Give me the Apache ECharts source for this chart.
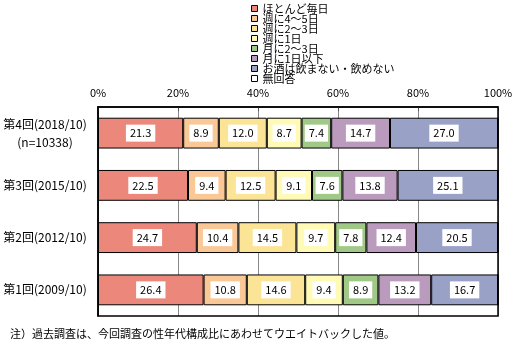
<!DOCTYPE html>
<html>
<head>
<meta charset="utf-8">
<script src="https://cdn.jsdelivr.net/npm/echarts@6/dist/echarts.min.js"></script>
<style>
  html, body { margin: 0; padding: 0; background: #fff; }
  #main { width: 527px; height: 351px; }
</style>
</head>
<body>
<div id="main"></div>
<script>
// 調査回
const rounds = ['第4回(2018/10)\n(n=10338)', '第3回(2015/10)', '第2回(2012/10)', '第1回(2009/10)'];
const seriesNames = ['ほとんど毎日', '週に4～5日', '週に2～3日', '週に1日', '月に2～3日', '月に1日以下', 'お酒は飲まない・飲めない', '無回答'];
const colors = ['#EC877B', '#FAC797', '#FCE497', '#FFFBB7', '#A0C987', '#BA9BBD', '#99A1C7', '#FFFFFF'];

const daily = [21.3, 22.5, 24.7, 26.4];
const week45 = [8.9, 9.4, 10.4, 10.8];
const week23 = [12.0, 12.5, 14.5, 14.6];
const week1 = [8.7, 9.1, 9.7, 9.4];
const month23 = [7.4, 7.6, 7.8, 8.9];
const month1 = [14.7, 13.8, 12.4, 13.2];
const noDrink = [27.0, 25.1, 20.5, 16.7];
const noAnswer = [0, 0, 0, 0];

const values = [daily, week45, week23, week1, month23, month1, noDrink, noAnswer];
const font = '"Noto Sans CJK JP", sans-serif';

const chart = echarts.init(document.getElementById('main'));
chart.setOption({
  animation: false,
  textStyle: { fontFamily: font },
  color: colors,
  legend: {
    orient: 'vertical',
    left: 251,
    top: 3,
    icon: 'rect',
    itemWidth: 6,
    itemHeight: 6,
    itemGap: -1,
    padding: 0,
    itemStyle: { borderColor: '#000', borderWidth: 1 },
    textStyle: { fontSize: 11, color: '#000', lineHeight: 10 },
    data: seriesNames
  },
  grid: { left: 98, right: 29, top: 107, bottom: 35 },
  xAxis: {
    type: 'value',
    position: 'top',
    min: 0,
    max: 100,
    interval: 20,
    axisLine: { show: true, lineStyle: { color: '#000', width: 1.5 } },
    axisTick: { show: true, inside: true, length: 4, lineStyle: { color: '#555' } },
    axisLabel: { formatter: '{value}%', color: '#000', fontSize: 11, margin: 9 },
    splitLine: { show: true, lineStyle: { color: '#888', width: 1 } }
  },
  yAxis: {
    type: 'category',
    inverse: true,
    data: rounds,
    axisLine: { show: true, lineStyle: { color: '#000', width: 1.5 } },
    axisTick: { show: false },
    axisLabel: { color: '#000', fontSize: 12, align: 'center', margin: 53, lineHeight: 18 }
  },
  graphic: [
    {
      type: 'rect',
      shape: { x: 98, y: 107, width: 400, height: 209 },
      style: { fill: 'none', stroke: '#000', lineWidth: 1.5 },
      z: 100
    },
    {
      type: 'text',
      left: 10,
      top: 328,
      style: { text: '注）過去調査は、今回調査の性年代構成比にあわせてウエイトバックした値。', fontSize: 11, fill: '#000', fontFamily: font }
    }
  ],
  series: seriesNames.map((name, i) => ({
    name: name,
    type: 'bar',
    stack: 'total',
    barWidth: '59%',
    data: values[i],
    itemStyle: { color: colors[i], borderColor: '#000', borderWidth: 1 },
    label: {
      show: i < 7,
      position: 'inside',
      formatter: (p) => p.value.toFixed(1),
      color: '#000',
      fontSize: 11,
      backgroundColor: '#fff',
      padding: [3, 4]
    }
  }))
});
</script>
</body>
</html>
